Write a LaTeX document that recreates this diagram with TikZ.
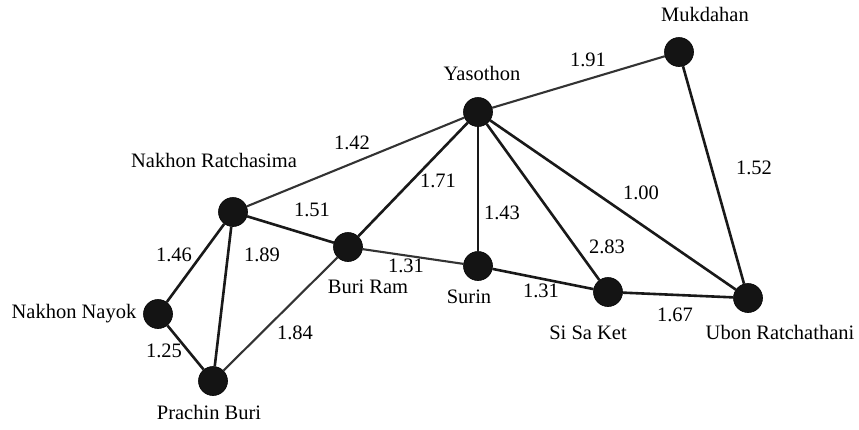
\documentclass[tikz,border=0pt]{standalone}
\usepackage{fontspec}
\setmainfont{Liberation Serif}
\newfontfamily\mapfont{Liberation Serif}
\begin{document}
\begin{tikzpicture}[x=1pt,y=-1pt,
  city/.style={circle,fill=black!92,draw=black,line width=0.6pt,minimum size=29pt,inner sep=0pt},
  road/.style={line width=2.6pt,draw=black!90},
  lightroad/.style={line width=2.1pt,draw=black!80},
  txt/.style={font=\mapfont\fontsize{20.5}{22}\selectfont,inner sep=0pt,text height=0.66em,text depth=0pt},
  wt/.style={txt}]
\useasboundingbox (0,0) rectangle (859,429);

% cities
\node[city] (muk) at (679,52)  {};
\node[city] (yas) at (478,112) {};
\node[city] (nra) at (233,212) {};
\node[city] (bur) at (348,247) {};
\node[city] (sur) at (478,266) {};
\node[city] (ssk) at (608,292) {};
\node[city] (ubo) at (748,298) {};
\node[city] (nny) at (158,314) {};
\node[city] (pra) at (213,381) {};

% city names
\node[txt] (lmuk) at (705,18)  {Mukdahan};
\node[txt] (lyas) at (482,77)  {Yasothon};
\node[txt] (lnra) at (214,164) {Nakhon Ratchasima};
\node[txt] (lbur) at (368,290) {Buri Ram};
\node[txt] (lsur) at (469,300) {Surin};
\node[txt] (lssk) at (588,336) {Si Sa Ket};
\node[txt] (lubo) at (780,336) {Ubon Ratchathani};
\node[txt] (lnny) at (74,315)  {Nakhon Nayok};
\node[txt] (lpra) at (209,416) {Prachin Buri};

% roads
\begin{scope}[on background layer/.try]
\draw[lightroad] (yas) -- (muk);
\draw[road] (muk) -- (ubo);
\draw[lightroad] (nra) -- (yas);
\draw[road] (yas) -- (bur);
\draw[road] (yas) -- (sur);
\draw[road] (yas) -- (ubo);
\draw[road] (yas) -- (ssk);
\draw[road] (nra) -- (bur);
\draw[lightroad] (bur) -- (sur);
\draw[road] (sur) -- (ssk);
\draw[road] (ssk) -- (ubo);
\draw[road] (nra) -- (nny);
\draw[road] (nra) -- (pra);
\draw[lightroad] (bur) -- (pra);
\draw[road] (nny) -- (pra);
\end{scope}

% distances
\node[wt] (w1) at (588,63)  {1.91};
\node[wt] (w2) at (754,171) {1.52};
\node[wt] (w3) at (352,146) {1.42};
\node[wt] (w4) at (438,184) {1.71};
\node[wt] (w5) at (502,216) {1.43};
\node[wt] (w6) at (641,196) {1.00};
\node[wt] (w7) at (607,250) {2.83};
\node[wt] (w8) at (312,213) {1.51};
\node[wt] (w9) at (406,269) {1.31};
\node[wt] (w10) at (541,294) {1.31};
\node[wt] (w11) at (675,318) {1.67};
\node[wt] (w12) at (174,258) {1.46};
\node[wt] (w13) at (262,258) {1.89};
\node[wt] (w14) at (295,336) {1.84};
\node[wt] (w15) at (164,354) {1.25};
\end{tikzpicture}
\end{document}
